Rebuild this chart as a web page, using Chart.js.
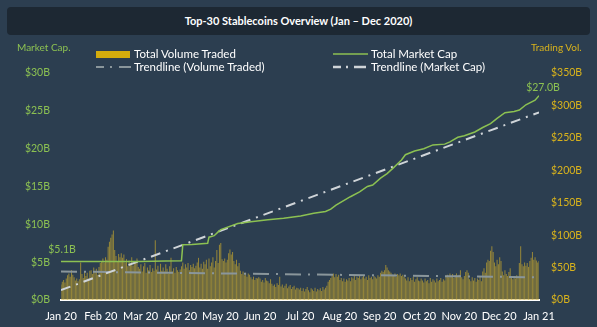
<!DOCTYPE html>
<html>
<head>
<meta charset="utf-8">
<script src="https://cdn.jsdelivr.net/npm/chart.js@4.4.0/dist/chart.umd.min.js"></script>
<style>
  html, body { margin: 0; padding: 0; background: #2c3e50; }
  #wrap { position: relative; width: 597px; height: 327px; overflow: hidden; font-family: Lato, 'Open Sans', sans-serif; }
  #chart { position: absolute; left: 0; top: 0; }
  #title { position: absolute; left: 7px; top: 7px; width: 583px; height: 28px; background: #1d2833; border-radius: 4px;
           color: #fff; font-weight: bold; font-size: 11px; line-height: 28px; text-align: center; }
  .axisTitle { position: absolute; top: 41px; font-size: 10px; line-height: 12px; }
  .legItem { position: absolute; color: #fff; font-size: 11.5px; line-height: 14px; white-space: nowrap; }
  .legItem svg { position: absolute; }
</style>
</head>
<body>
<div id="wrap">
  <canvas id="chart" width="597" height="327"></canvas>
  <div id="title">Top-30 Stablecoins Overview (Jan – Dec 2020)</div>
  <div class="axisTitle" style="left:17px; color:#8cc152;">Market Cap.</div>
  <div class="axisTitle" style="left:531px; color:#d9b31c;">Trading Vol.</div>
  <div id="legend"></div>
</div>
<script>
// month tick labels (equally spaced on the axis)
const monthLabels = ['Jan 20', 'Feb 20', 'Mar 20', 'Apr 20', 'May 20', 'Jun 20', 'Jul 20',
                     'Aug 20', 'Sep 20', 'Oct 20', 'Nov 20', 'Dec 20', 'Jan 21'];

// daily total volume traded ($B)
const volJan = [24, 28, 31, 27, 33, 38, 41, 36, 46, 39, 35, 30, 33, 29, 32, 58, 40, 34, 44, 37, 42, 33, 45,
                46, 40, 50, 43, 48, 39, 51, 57];
const volFeb = [60, 64, 58, 66, 62, 82, 90, 96, 101, 107, 77, 68, 60, 71, 66, 72, 65, 70,
                58, 63, 52, 61, 55, 66, 53, 60, 57, 64, 51];
const volMar = [48, 55, 44, 52, 57, 42, 50, 46, 54, 43, 49, 45, 92, 47, 53, 42, 56, 45, 50, 44, 55, 48, 41, 52,
                65, 44, 49, 42, 51, 46, 43];
const volApr = [47, 52, 58, 48, 55, 50, 57, 46, 54, 51, 56, 49, 53, 58, 65, 50, 56, 48, 59,
                55, 62, 48, 64, 52, 58, 66, 50, 60, 77, 57];
const volMay = [85, 88, 63, 60, 64, 58, 62, 72, 78, 70, 74, 60, 55, 62, 52, 57, 45, 40, 44, 38, 42, 36, 41, 39,
                35, 32, 36, 31, 34, 33, 35];
const volJun = [33, 28, 31, 27, 34, 30, 29, 26, 32, 25, 22, 24, 20, 26, 23, 36, 21, 24, 19, 22, 25, 18, 21, 23,
                17, 20, 22, 16, 19, 18];
const volJul = [16, 19, 14, 18, 13, 17, 20, 15, 12, 18, 16, 14, 19, 13, 17, 15, 18, 14, 20, 16, 19, 22,
                28, 31, 34, 38, 41, 35, 40, 36, 39];
const volAug = [31, 34, 29, 33, 28, 32, 30, 34, 29, 35, 33, 37, 31, 36, 34, 38, 32, 35, 37, 33, 36, 31, 38, 34,
                36, 32, 37, 35, 33, 38, 36];
const volSep = [42, 45, 43, 46, 54, 50, 46, 44, 42, 39, 37, 41, 36, 40, 38, 41, 37, 39, 36,
                33, 30, 35, 29, 34, 31, 36, 28, 32, 35, 30];
const volOct = [29, 33, 30, 27, 33, 29, 31, 26, 34, 28, 32, 30, 27, 33, 29, 31, 34, 28, 32, 30,
                36, 39, 35, 41, 37, 40, 34, 38, 41, 36, 39];
const volNov = [46, 35, 32, 37, 43, 46, 42, 32, 29, 35, 30, 34, 28, 33, 31, 36, 29, 44, 49, 42,
                58, 62, 60, 76, 83, 74, 58, 52, 62, 55];
const volDec = [66, 60, 44, 38, 46, 40, 37, 43, 49, 35, 32, 37, 33, 38, 34, 57, 83, 55, 52, 58, 53, 57, 51,
                60, 65, 74, 62, 66, 61, 58, 60];
const volume = [].concat(volJan, volFeb, volMar, volApr, volMay, volJun, volJul, volAug, volSep, volOct, volNov, volDec);

// total market cap ($B) at day-of-year points
const capDays = [0, 30, 60, 80, 92, 93, 100, 112, 113, 117, 120, 122, 135, 145, 158, 170, 183, 193, 202, 206,
                 210, 221, 228, 234, 238, 244, 249, 254, 260, 263, 270, 277, 284, 293, 297, 303, 308, 316, 322, 328,
                 333, 339, 346, 350, 355, 362, 365];
const capValues = [5.1, 5.1, 5.1, 5.15, 5.2, 7.3, 7.35, 7.5, 8.3, 8.5, 9.0, 9.3, 10.1, 10.35, 10.6, 10.8, 11.1, 11.45, 11.7, 12.0,
                   12.55, 13.65, 14.3, 15.0, 15.2, 16.1, 16.7, 17.5, 18.5, 19.2, 19.7, 20.0, 20.5, 20.6, 20.9, 21.5, 21.7, 22.2, 22.8, 23.3,
                   24.0, 24.75, 24.9, 25.1, 25.8, 26.4, 27.0];

// linear trendlines (start / end of year)
const trendDays = [0, 365];
const capTrend = [1.3, 24.8];
const volTrend = [44, 35];

const GOLD = '#d4ac0d';
const GREEN = '#8cc152';
const AXIS_GREEN = '#8cc152';
const AXIS_GOLD = '#d9b31c';
const CAP_TREND = '#cfd4d8';
const VOL_TREND = '#8a969b';

const toXY = (xs, ys) => xs.map((x, i) => ({ x: x, y: ys[i] }));

// legend (drawn as html)
const legendItems = [
  { text: 'Total Volume Traded', left: 96, top: 47, kind: 'box', color: GOLD },
  { text: 'Trendline (Volume Traded)', left: 96, top: 60, kind: 'line', color: VOL_TREND, width: 2, dash: '8 6 2 7 12' },
  { text: 'Total Market Cap', left: 333, top: 47, kind: 'line', color: GREEN, width: 1.5, dash: '' },
  { text: 'Trendline (Market Cap)', left: 333, top: 60, kind: 'line', color: CAP_TREND, width: 2.5, dash: '8 5 2 6 12' }
];
const legendEl = document.getElementById('legend');
legendItems.forEach(item => {
  const div = document.createElement('div');
  div.className = 'legItem';
  div.style.left = item.left + 'px';
  div.style.top = item.top + 'px';
  let svg;
  if (item.kind === 'box') {
    svg = '<svg width="34" height="7" style="left:0;top:4px"><rect width="34" height="7" fill="' + item.color + '"/></svg>';
  } else {
    svg = '<svg width="35" height="6" style="left:0;top:4px"><line x1="0" y1="3" x2="35" y2="3" stroke="' + item.color +
          '" stroke-width="' + item.width + '" stroke-dasharray="' + item.dash + '"/></svg>';
  }
  div.innerHTML = svg + '<span style="position:absolute;left:38px;top:0">' + item.text + '</span>';
  legendEl.appendChild(div);
});

// start / end value labels on the market cap line
const capLabels = {
  id: 'capLabels',
  afterDatasetsDraw(chart) {
    const meta = chart.getDatasetMeta(0);
    const first = meta.data[0];
    const last = meta.data[meta.data.length - 1];
    const ctx = chart.ctx;
    ctx.save();
    ctx.fillStyle = GREEN;
    ctx.font = '10.5px Lato';
    ctx.textAlign = 'center';
    ctx.textBaseline = 'middle';
    ctx.fillText('$' + capValues[0].toFixed(1) + 'B', first.x + 1, first.y - 12);
    ctx.fillText('$' + capValues[capValues.length - 1].toFixed(1) + 'B', last.x + 4, last.y - 8);
    ctx.restore();
  }
};

new Chart(document.getElementById('chart'), {
  data: {
    datasets: [
      {
        type: 'line',
        label: 'Total Market Cap',
        data: toXY(capDays, capValues),
        yAxisID: 'yL',
        borderColor: GREEN,
        borderWidth: 1.5,
        pointRadius: 0,
        tension: 0,
        order: 1
      },
      {
        type: 'line',
        label: 'Trendline (Market Cap)',
        data: toXY(trendDays, capTrend),
        yAxisID: 'yL',
        borderColor: CAP_TREND,
        borderWidth: 2,
        borderDash: [10, 6, 2, 6],
        pointRadius: 0,
        order: 2
      },
      {
        type: 'line',
        label: 'Trendline (Volume Traded)',
        data: toXY(trendDays, volTrend),
        yAxisID: 'yR',
        borderColor: VOL_TREND,
        borderWidth: 2,
        borderDash: [16, 7, 2, 7],
        pointRadius: 0,
        order: 3
      },
      {
        type: 'bar',
        label: 'Total Volume Traded',
        data: volume.map((v, i) => ({ x: i, y: v })),
        yAxisID: 'yR',
        backgroundColor: 'rgba(200,168,45,0.66)',
        categoryPercentage: 1,
        barPercentage: 0.8,
        order: 4
      }
    ]
  },
  options: {
    responsive: false,
    animation: false,
    layout: { padding: { top: 73, left: 0, right: 0, bottom: 0 } },
    plugins: {
      legend: { display: false },
      tooltip: { enabled: false }
    },
    scales: {
      x: {
        type: 'linear',
        position: 'bottom',
        min: 0,
        max: 365,
        offset: false,
        grid: { display: false, drawTicks: false },
        border: { display: true, color: '#ffffff', width: 2 },
        afterBuildTicks: (scale) => {
          scale.ticks = monthLabels.map((l, i) => ({ value: i * 365 / 12 }));
        },
        afterFit: (scale) => { scale.height = 27; },
        ticks: {
          color: '#ffffff',
          font: { family: 'Lato', size: 11 },
          padding: 10,
          autoSkip: false,
          maxRotation: 0,
          callback: (value, index) => monthLabels[index]
        }
      },
      yL: {
        position: 'left',
        min: 0,
        max: 30,
        grid: { display: false, drawTicks: false },
        border: { display: false },
        afterFit: (scale) => { scale.width = 61; },
        ticks: {
          stepSize: 5,
          color: AXIS_GREEN,
          font: { family: 'Lato', size: 10.5 },
          padding: 11,
          callback: (v) => '$' + v + 'B'
        }
      },
      yR: {
        position: 'right',
        min: 0,
        max: 350,
        grid: { display: false, drawTicks: false },
        border: { display: false },
        afterFit: (scale) => { scale.width = 58; },
        ticks: {
          stepSize: 50,
          color: AXIS_GOLD,
          font: { family: 'Lato', size: 10.5 },
          padding: 12,
          callback: (v) => '$' + v + 'B'
        }
      }
    }
  },
  plugins: [capLabels]
});
</script>
</body>
</html>
